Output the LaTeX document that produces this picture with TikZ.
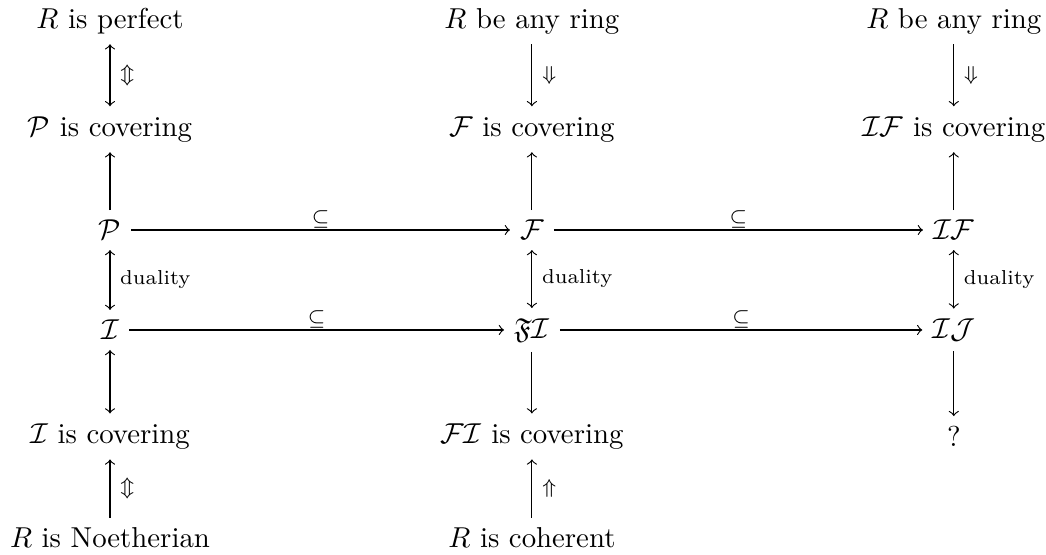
\documentclass[tikz,border=0pt]{standalone}
\usepackage{amsmath,amssymb}
\usepackage{tikz}
\usetikzlibrary{positioning}

\begin{document}
\begin{tikzpicture}[
  x=0.0122cm, y=-0.0122cm, >=to,
  node distance=1.25cm and 5.15cm, on grid,
  lbl/.style={font=\scriptsize},
  incl/.style={above, inner sep=0.5pt, font=\scriptsize}
]
\useasboundingbox (0,0) rectangle (1046,554);
% left column
\node (P) at (110,230) {$\mathcal{P}$};
\node[above=1.23cm of P] (Pc) {$\mathcal{P}$ is covering};
\node[above=1.32cm of Pc] (perf) {$R$ is perfect};
\node[below=1.22cm of P] (I) {$\mathcal{I}$};
\node[below=1.3cm of I] (Ic) {$\mathcal{I}$ is covering};
\node[below=1.24cm of Ic] (noeth) {$R$ is Noetherian};
% middle column
\node[right=of P] (F) {$\mathcal{F}$};
\node[above=1.23cm of F] (Fc) {$\mathcal{F}$ is covering};
\node[above=1.32cm of Fc] (any1) {$R$ be any ring};
\node[below=1.22cm of F] (FI) {$\mathfrak{F}\mathcal{I}$};
\node[below=1.3cm of FI] (FIc) {$\mathcal{F}\mathcal{I}$ is covering};
\node[below=1.24cm of FIc] (coh) {$R$ is coherent};
% right column
\node[right=of F] (IF) {$\mathcal{I}\mathcal{F}$};
\node[above=1.23cm of IF] (IFc) {$\mathcal{I}\mathcal{F}$ is covering};
\node[above=1.32cm of IFc] (any2) {$R$ be any ring};
\node[below=1.22cm of IF] (IJ) {$\mathcal{I}\mathcal{J}$};
\node[below=1.3cm of IJ] (q) {?};

\draw[<->] (perf) -- node[right, lbl]{$\Updownarrow$} (Pc);
\draw[->] (P) -- (Pc);
\draw[<->] (P) -- node[right, lbl]{duality} (I);
\draw[<->] (I) -- (Ic);
\draw[->] (noeth) -- node[right, lbl]{$\Updownarrow$} (Ic);

\draw[->] (any1) -- node[right, lbl]{$\Downarrow$} (Fc);
\draw[->] (F) -- (Fc);
\draw[<->] (F) -- node[right, lbl]{duality} (FI);
\draw[->] (FI) -- (FIc);
\draw[->] (coh) -- node[right, lbl]{$\Uparrow$} (FIc);

\draw[->] (any2) -- node[right, lbl]{$\Downarrow$} (IFc);
\draw[->] (IF) -- (IFc);
\draw[<->] (IF) -- node[right, lbl]{duality} (IJ);
\draw[->] (IJ) -- (q);

\draw[->] (P) -- node[incl]{$\subseteq$} (F);
\draw[->] (F) -- node[incl]{$\subseteq$} (IF);
\draw[->] (I) -- node[incl]{$\subseteq$} (FI);
\draw[->] (FI) -- node[incl]{$\subseteq$} (IJ);
\end{tikzpicture}
\end{document}
